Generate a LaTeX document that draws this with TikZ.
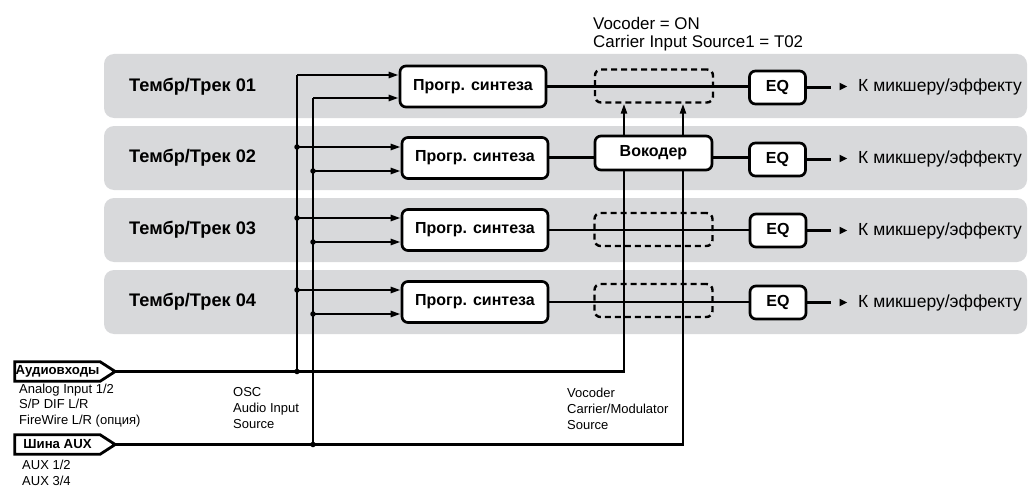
\documentclass[tikz,border=0pt]{standalone}
\usepackage{fontspec}
\setmainfont{Liberation Sans}
\usetikzlibrary{arrows.meta}
\definecolor{bandgray}{RGB}{216,217,219}
\begin{document}
\begin{tikzpicture}[x=1pt,y=-1pt,
  bandbox/.style={fill=bandgray, rounded corners=10pt},
  tracklbl/.style={anchor=west, inner sep=0pt, font=\fontsize{18.2}{21}\selectfont\bfseries},
  boxbase/.style={draw, line width=2.7pt, fill=white, rounded corners=6pt, inner sep=0pt, font=\fontsize{16}{19}\selectfont\bfseries},
  prog/.style={boxbase, minimum width=146pt, minimum height=41pt},
  eqbox/.style={boxbase, minimum width=56pt, minimum height=33pt},
  vocbox/.style={boxbase, minimum width=117pt, minimum height=34pt},
  dashbox/.style={draw, line width=2.4pt, dash pattern=on 6pt off 4pt, rounded corners=6pt, minimum width=118pt, minimum height=33pt, inner sep=0pt},
  conn/.style={line width=2.3pt},
  arr/.style={conn, -{Triangle[length=10pt,width=6pt]}},
  dot/.style={circle, fill, inner sep=0pt, minimum size=5.5pt},
  outtext/.style={anchor=west, inner sep=0pt, font=\fontsize{17.5}{20}\selectfont},
  toptext/.style={anchor=west, inner sep=0pt, font=\fontsize{16.9}{20}\selectfont},
  smalltext/.style={anchor=west, align=left, inner sep=0pt, font=\fontsize{13}{15.8}\selectfont},
  inbox/.style={inner sep=0pt, minimum width=85pt, minimum height=19pt, font=\fontsize{13.2}{15}\selectfont\bfseries},
  inframe/.style={line width=2.8pt, line join=miter}
]
\useasboundingbox (0,0) rectangle (1029,487);

% bands
\fill[bandbox] (104,54) rectangle (1027,118);
\fill[bandbox] (104,126) rectangle (1027,190);
\fill[bandbox] (104,198) rectangle (1027,262);
\fill[bandbox] (104,270) rectangle (1027,334);

% track labels
\node[tracklbl] (t1) at (129,86.5) {Тембр/Трек 01};
\node[tracklbl] (t2) at (129,158) {Тембр/Трек 02};
\node[tracklbl] (t3) at (129,230) {Тембр/Трек 03};
\node[tracklbl] (t4) at (129,302) {Тембр/Трек 04};

% top texts
\node[toptext] (vocon) at (593,23) {Vocoder = ON};
\node[toptext] (carr) at (593,43) {Carrier Input Source1 = T02};

% dashed boxes
\node[dashbox] (d1) at (654,86) {};
\node[dashbox] (d3) at (653.5,229.5) {};
\node[dashbox] (d4) at (653.5,300.5) {};

% synth boxes
\node[prog] (s1) at (473,86.5) {Прогр. синтеза};
\node[prog] (s2) at (475,158) {Прогр. синтеза};
\node[prog] (s3) at (475,230) {Прогр. синтеза};
\node[prog] (s4) at (475,302) {Прогр. синтеза};

% EQ boxes
\node[eqbox] (e1) at (777.5,87.5) {EQ};
\node[eqbox] (e2) at (777.5,159.5) {EQ};
\node[eqbox] (e3) at (778,230.5) {EQ};
\node[eqbox] (e4) at (778,302.5) {EQ};

% outputs
\node[outtext] (o1) at (858,86.5) {К микшеру/эффекту};
\node[outtext] (o2) at (858,158.5) {К микшеру/эффекту};
\node[outtext] (o3) at (858,230.5) {К микшеру/эффекту};
\node[outtext] (o4) at (858,302.5) {К микшеру/эффекту};

% input boxes
\node[inbox] (ain) at (57.5,371.5) {Аудиовходы};
\node[inbox] (aux) at (57.5,444.5) {Шина AUX};
\coordinate (aintip) at ([xshift=15pt]ain.east);
\coordinate (auxtip) at ([xshift=15pt]aux.east);

% small labels
\node[smalltext] (ainl) at (19,405.5) {Analog Input 1/2\\S/P DIF L/R\\FireWire L/R (опция)};
\node[smalltext] (auxl) at (22,473) {AUX 1/2\\AUX 3/4};
\node[smalltext] (oscl) at (233,408) {OSC\\Audio Input\\Source};
\node[smalltext] (vcml) at (567,409) {Vocoder\\Carrier/Modulator\\Source};

% vocoder
\node[vocbox] (v) at (653.5,153) {Вокодер};
\coordinate (vL) at ([xshift=-29.5pt]v.south);
\coordinate (vR) at ([xshift=29.5pt]v.south);
\coordinate (vLt) at ([xshift=-29.5pt]v.north);
\coordinate (vRt) at ([xshift=29.5pt]v.north);

% through lines
\draw[conn] (s1.east) -- (s1.east -| e1.west);
\draw[conn] (s2.east |- 0,157.5) -- (v.west |- 0,157.5);
\draw[conn] (v.east |- 0,157.5) -- (e2.west |- 0,157.5);
\draw[conn] (s3.east) -- (s3.east -| e3.west);
\draw[conn] (s4.east) -- (s4.east -| e4.west);

\draw[arr] (vLt) -- (vLt |- d1.south);
\draw[arr] (vRt) -- (vRt |- d1.south);

% input buses
\draw[conn] (aintip) -| (vL);
\draw[conn] (auxtip) -| (vR);

% vertical distribution lines
\coordinate (A1) at (297,75);
\coordinate (B1) at (313,98);
\coordinate (A2) at (297,147);
\coordinate (B2) at (313,171);
\coordinate (A3) at (297,218);
\coordinate (B3) at (313,242);
\coordinate (A4) at (297,290);
\coordinate (B4) at (313,314);
\coordinate (Aend) at (A1 |- aintip);
\coordinate (Bend) at (B1 |- auxtip);
\draw[conn] (A1) -- (Aend);
\draw[conn] (B1) -- (Bend);
\draw[arr] (A1) -- (A1 -| s1.west);
\draw[arr] (B1) -- (B1 -| s1.west);
\draw[arr] (A2) -- (A2 -| s2.west);
\draw[arr] (B2) -- (B2 -| s2.west);
\draw[arr] (A3) -- (A3 -| s3.west);
\draw[arr] (B3) -- (B3 -| s3.west);
\draw[arr] (A4) -- (A4 -| s4.west);
\draw[arr] (B4) -- (B4 -| s4.west);
\foreach \p in {A2,B2,A3,B3,A4,B4,Aend,Bend} \node[dot] at (\p) {};

% input frames
\draw[inframe] (ain.north west) -- (ain.north east) -- (aintip) -- (ain.south east) -- (ain.south west) -- cycle;
\draw[inframe] (aux.north west) -- (aux.north east) -- (auxtip) -- (aux.south east) -- (aux.south west) -- cycle;

% output connectors
\foreach \e/\o in {e1/o1,e2/o2,e3/o3,e4/o4} {
  \coordinate (\o-end) at ([xshift=-27pt]\o.west);
  \draw[conn] (\e.east) -- (\e.east -| \o-end);
  \fill ([xshift=-11pt]\o.west) -- ++(-7.5,-3.8) -- ++(0,7.6) -- cycle;
}
\end{tikzpicture}
\end{document}
